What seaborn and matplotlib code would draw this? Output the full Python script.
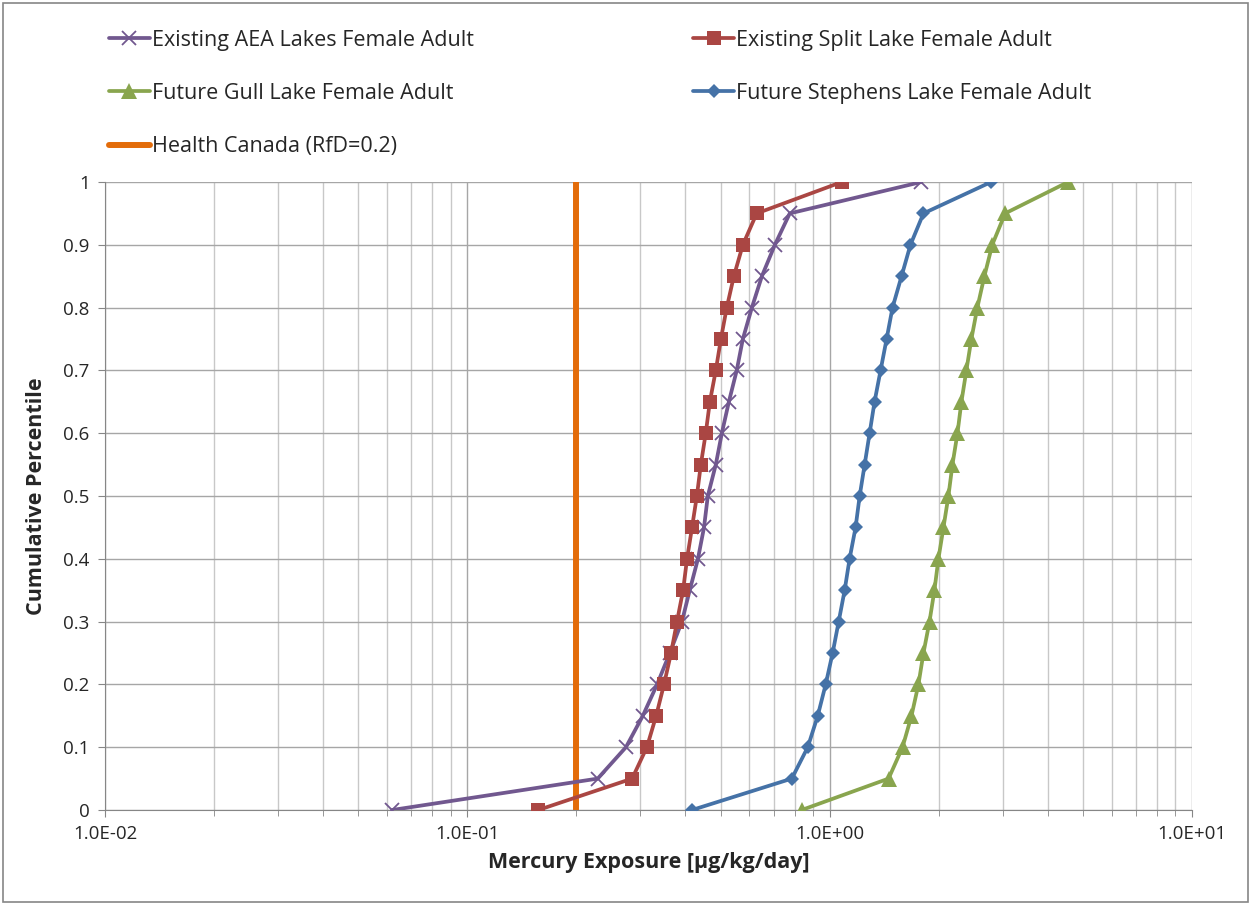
import matplotlib
matplotlib.use("Agg")
import matplotlib.pyplot as plt
import matplotlib.ticker as mticker
from matplotlib.patches import Rectangle
import pandas as pd
import seaborn as sns

# cumulative percentiles (same for every series)
percentiles = [0, 0.05, 0.1, 0.15, 0.2, 0.25, 0.3, 0.35, 0.4, 0.45, 0.5,
               0.55, 0.6, 0.65, 0.7, 0.75, 0.8, 0.85, 0.9, 0.95, 1.0]

# mercury exposure [ug/kg/day]
aea_existing = [0.062, 0.229, 0.274, 0.305, 0.334, 0.362, 0.391, 0.411, 0.433, 0.450, 0.461,
                0.485, 0.504, 0.527, 0.554, 0.576, 0.610, 0.650, 0.706, 0.776, 1.79]
split_existing = [0.157, 0.285, 0.313, 0.332, 0.349, 0.365, 0.379, 0.394, 0.404, 0.417, 0.430,
                  0.441, 0.455, 0.467, 0.485, 0.501, 0.520, 0.544, 0.576, 0.629, 1.08]
gull_future = [0.837, 1.454, 1.589, 1.682, 1.758, 1.815, 1.886, 1.946, 1.996, 2.061, 2.127,
               2.182, 2.253, 2.31, 2.384, 2.461, 2.556, 2.673, 2.81, 3.05, 4.55]
stephens_future = [0.417, 0.786, 0.870, 0.927, 0.975, 1.019, 1.059, 1.100, 1.135, 1.179, 1.21,
                   1.249, 1.289, 1.330, 1.382, 1.436, 1.491, 1.579, 1.671, 1.815, 2.79]

rfd_value = 0.2
rfd_span = [0, 1]

labels = ["Existing AEA Lakes Female Adult", "Existing Split Lake Female Adult",
          "Future Gull Lake Female Adult", "Future Stephens Lake Female Adult",
          "Health Canada (RfD=0.2)"]

sns.set_style("white")
plt.rcParams['font.family'] = ['Open Sans', 'DejaVu Sans']

fig = plt.figure(figsize=(12.51, 9.05), dpi=100)
ax = fig.add_axes([105 / 1251, 1 - 810 / 905, (1192 - 105) / 1251, (810 - 182) / 905])

series = [
    (aea_existing, "#71588F", "x", 10, 1.3),
    (split_existing, "#AA4643", "s", 10, 0),
    (gull_future, "#89A54E", "^", 11, 0),
    (stephens_future, "#4572A7", "D", 7.5, 0),
]
for (vals, col, mk, ms, mew), lab in zip(series, labels):
    df = pd.DataFrame({"x": vals, "y": percentiles})
    sns.lineplot(data=df, x="x", y="y", ax=ax, color=col, lw=2.7, marker=mk,
                 markersize=ms, markeredgewidth=mew, markeredgecolor=col,
                 sort=False, estimator=None, label=lab, zorder=3)

ax.plot([rfd_value, rfd_value], rfd_span, color="#E36C0A", lw=4.3, label=labels[4], zorder=2)

ax.set_xscale("log")
ax.set_xlim(0.01, 10)
ax.set_ylim(0, 1)
ax.xaxis.set_major_locator(mticker.LogLocator(base=10, numticks=10))
ax.xaxis.set_minor_locator(mticker.LogLocator(base=10, subs=range(2, 10), numticks=20))
ax.xaxis.set_major_formatter(mticker.FuncFormatter(lambda v, p: f"{v:.1E}"))
ax.xaxis.set_minor_formatter(mticker.NullFormatter())
ax.yaxis.set_major_locator(mticker.MultipleLocator(0.1))
ax.yaxis.set_major_formatter(mticker.FuncFormatter(lambda v, p: f"{v:g}"))

ax.grid(True, which="major", color="#A6A6A6", lw=1)
ax.grid(True, which="minor", axis="x", color="#C8C8C8", lw=1)
ax.tick_params(axis="both", which="major", labelsize=13.5, length=5, color="#868686",
               direction="out", bottom=True, left=True, pad=6)
ax.tick_params(axis="x", which="minor", length=4, color="#868686", direction="out", bottom=True)
for side in ["left", "bottom"]:
    ax.spines[side].set_color("#868686")
for side in ["top", "right"]:
    ax.spines[side].set_visible(False)

ax.set_xlabel("Mercury Exposure [µg/kg/day]", fontsize=15.5, fontweight="bold", labelpad=6)
ax.set_ylabel("Cumulative Percentile", fontsize=15.5, fontweight="bold", labelpad=12)

handles, labs = ax.get_legend_handles_labels()
ax.legend_.remove()
order = [0, 2, 4, 1, 3]
fig.legend([handles[i] for i in order], [labs[i] for i in order], ncol=2,
           loc="upper left", bbox_to_anchor=(100 / 1251, 1 - 21 / 905), frameon=False,
           fontsize=15.5, handlelength=1.9, handletextpad=0.1, columnspacing=10.2,
           labelspacing=1.5, borderaxespad=0)

fig.patches.append(Rectangle((3 / 1251, 3 / 905), 1 - 6 / 1251, 1 - 6 / 905,
                             transform=fig.transFigure, fill=False,
                             edgecolor="#868686", lw=1.2))

fig.savefig("out.png", dpi=100)
